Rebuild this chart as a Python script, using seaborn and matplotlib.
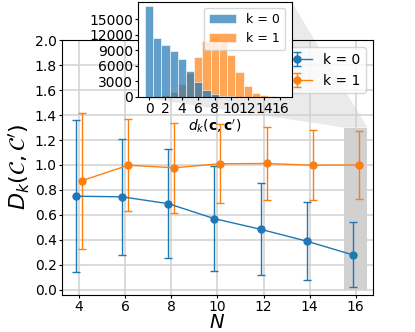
import numpy as np
import pandas as pd
import seaborn as sns
import matplotlib.pyplot as plt
from matplotlib.patches import Polygon, Rectangle

plt.rcParams['mathtext.fontset'] = 'dejavusans'

# main panel: mean distance and spread vs N
N = [4, 6, 8, 10, 12, 14, 16]
mean_k0 = [0.75, 0.745, 0.69, 0.57, 0.485, 0.39, 0.28]
err_k0 = [0.61, 0.465, 0.435, 0.42, 0.37, 0.31, 0.26]
mean_k1 = [0.875, 0.998, 0.978, 1.01, 1.012, 0.998, 1.0]
err_k1 = [0.545, 0.37, 0.36, 0.315, 0.29, 0.28, 0.275]

# inset: histogram of d_k for the highlighted N = 16
dist = list(range(17))
hist_k0 = [17500, 11400, 10100, 8950, 7300, 5060, 2800, 1400, 630, 250, 100, 30, 10, 0, 0, 0, 0]
hist_k1 = [20, 100, 400, 960, 2500, 4700, 7700, 10700, 11500, 10900, 8100, 4900, 2200, 830, 380, 100, 20]

fig = plt.figure(figsize=(4.15, 3.32), dpi=100)
ax = fig.add_axes([0.149, 0.112, 0.750, 0.767])

ax.errorbar(np.array(N) - 0.13, mean_k0, yerr=err_k0, fmt='-o', color='tab:blue',
            capsize=3, ms=5, lw=1, elinewidth=1, label='k = 0', zorder=3)
ax.errorbar(np.array(N) + 0.13, mean_k1, yerr=err_k1, fmt='-o', color='tab:orange',
            capsize=3, ms=5, lw=1, elinewidth=1, label='k = 1', zorder=3)

ax.set_xlim(3.25, 16.75)
ax.set_ylim(-0.04, 2.0)
ax.set_xticks(N)
ax.set_yticks(np.arange(0, 2.01, 0.2))
ax.tick_params(labelsize=10, length=2.5, pad=1.2)
ax.grid(True, color='0.82', lw=1.1)
ax.set_xlabel('$N$', fontsize=14, labelpad=-1)
ax.set_ylabel(r"$D_k(\mathcal{C},\mathcal{C}')$", fontsize=16, labelpad=2)
ax.legend(loc='upper right', fontsize=10, handlelength=2.2)

# highlighted N = 16 column
ax.add_patch(Rectangle((15.5, 0.0), 1.0, 1.3, color='0.55', alpha=0.4, lw=0, zorder=0.8))

# inset histogram
inset_pos = [0.3325, 0.708, 0.370, 0.287]
axin = fig.add_axes(inset_pos, zorder=2)
df = pd.DataFrame({'d': dist * 2,
                   'count': hist_k0 + hist_k1,
                   'k': ['k = 0'] * len(dist) + ['k = 1'] * len(dist)})
sns.histplot(data=df, x='d', weights='count', hue='k', discrete=True, ax=axin,
             palette=['tab:blue', 'tab:orange'], alpha=0.7, edgecolor='white', linewidth=0.4)
axin.set_xticks(range(0, 17, 2))
axin.set_yticks(range(0, 15001, 3000))
axin.tick_params(labelsize=10, length=2.5, pad=1.2)
axin.set_ylabel('')
axin.set_xlabel(r"$d_k(\mathbf{c},\mathbf{c}')$", fontsize=10, labelpad=1)
sns.move_legend(axin, 'upper right', title=None, fontsize=9, handlelength=2.2)

# connector wedge from the shaded column to the inset
fig.canvas.draw()
to_fig = ax.transData + fig.transFigure.inverted()
rtl = to_fig.transform((15.5, 1.3))
rtr = to_fig.transform((16.5, 1.3))
x0, y0, w, h = inset_pos
verts = [(x0, y0), (x0 + w, y0), (x0 + w, y0 + h), tuple(rtr), tuple(rtl)]
ax.add_patch(Polygon(verts, closed=True, transform=fig.transFigure, color='0.6',
                     alpha=0.2, lw=0, clip_on=False, zorder=0.6))

fig.savefig('out.png', dpi=100)
